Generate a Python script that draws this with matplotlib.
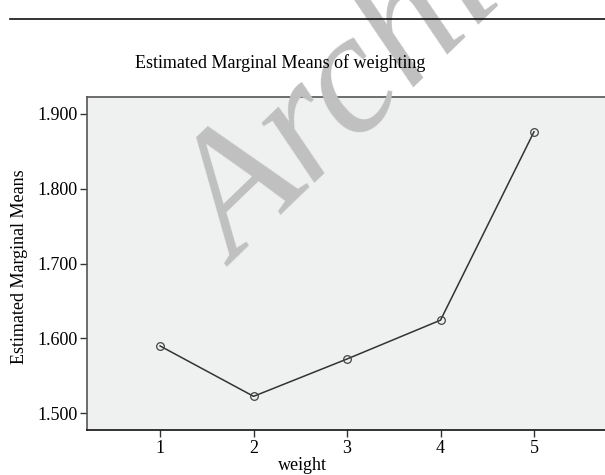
import matplotlib
matplotlib.use("Agg")
import matplotlib.pyplot as plt
from matplotlib.lines import Line2D

weights = [1, 2, 3, 4, 5]
means = [1.590, 1.5227, 1.5726, 1.6245, 1.8763]
yticks = [1.5, 1.6, 1.7, 1.8, 1.9]
ytick_labels = ["1.500", "1.600", "1.700", "1.800", "1.900"]
title = "Estimated Marginal Means of weighting"
xlabel = "weight"
ylabel = "Estimated Marginal Means"

W, H = 605, 475
fig = plt.figure(figsize=(W / 100, H / 100), dpi=100)
serif = "Liberation Serif"

left, right, bottom, top = 87, 606, 430, 97
ax = fig.add_axes([left / W, 1 - bottom / H, (right - left) / W, (bottom - top) / H])
ax.set_facecolor("#eff0f0")
ax.plot(weights, means, color="#333333", lw=1.1, marker="o", ms=5.5,
        mfc="none", mec="#444444", mew=0.9, zorder=3)
ax.set_xlim(0.218, 5.77)
ax.set_ylim(1.4777, 1.9227)
ax.set_xticks(weights)
ax.set_xticklabels([str(w) for w in weights], fontfamily=serif, fontsize=13)
ax.set_yticks(yticks)
ax.set_yticklabels(ytick_labels, fontfamily=serif, fontsize=13)
ax.tick_params(direction="out", length=5, width=1, color="#333333", pad=2)
for s in ["left", "top"]:
    ax.spines[s].set_color("#555555")
    ax.spines[s].set_linewidth(1.2)
ax.spines["bottom"].set_color("#111111")
ax.spines["bottom"].set_linewidth(1.2)
ax.spines["right"].set_visible(False)

fig.text(280 / W, 1 - 63 / H, title, ha="center", va="center",
         fontfamily=serif, fontsize=13, zorder=20)
fig.text(302 / W, 1 - 466 / H, xlabel, ha="center", va="center",
         fontfamily=serif, fontsize=13, zorder=20)
fig.text(20 / W, 1 - 267 / H, ylabel, ha="center", va="center", rotation=90,
         fontfamily=serif, fontsize=13, zorder=20)

fig.add_artist(Line2D([10 / W, 1], [1 - 19 / H, 1 - 19 / H], color="#111111",
                      lw=1.2, transform=fig.transFigure, zorder=20))

fig.text(0.392, 0.438, "Archive of SID", ha="left", va="baseline", rotation=44,
         rotation_mode="anchor", fontfamily=serif, fontstyle="italic",
         fontsize=125, color="#c0c0c0", zorder=10)

fig.savefig("out.png", dpi=100)
